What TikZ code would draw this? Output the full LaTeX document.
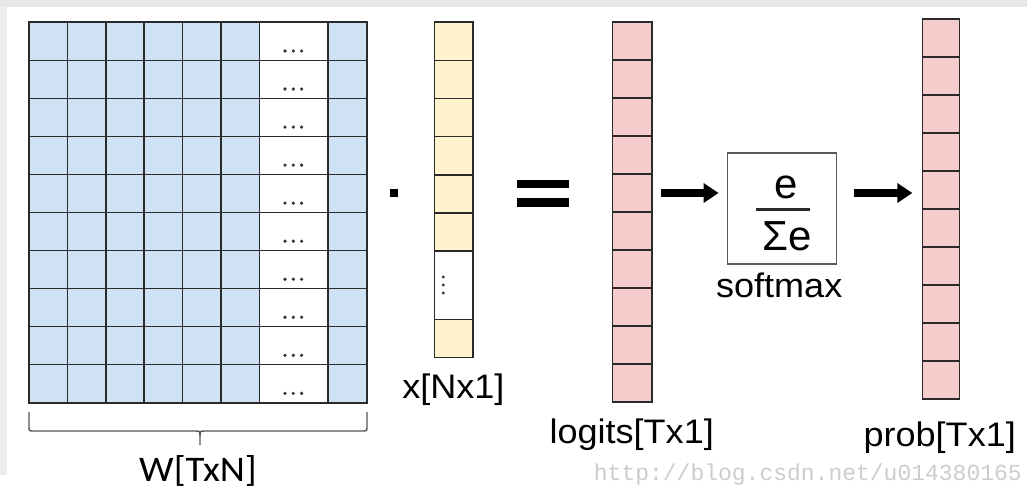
\documentclass[tikz,border=0pt]{standalone}
\usepackage{fontspec}
\setmainfont{Liberation Sans}
\newfontfamily\labfont{Liberation Sans}[FakeStretch=1.06]
\newfontfamily\wfont{Carlito}[FakeStretch=1.08]
\newfontfamily\markfont{Liberation Mono}
\usetikzlibrary{arrows.meta,calc}

\definecolor{cellblue}{HTML}{CFE2F3}
\definecolor{cellyellow}{HTML}{FFF2CC}
\definecolor{cellpink}{HTML}{F4CCCC}
\definecolor{gridline}{HTML}{2A2A2A}
\definecolor{boxgrey}{HTML}{5A5A5A}
\definecolor{bracegrey}{HTML}{555555}
\definecolor{stripgrey}{HTML}{E6E7E9}
\definecolor{sidegrey}{HTML}{ECEDEF}
\definecolor{markgrey}{HTML}{CDCDCD}
\definecolor{dotgrey}{HTML}{333333}

\begin{document}
\begin{tikzpicture}[x=1pt,y=-1pt,
  cellcol/.style={inner sep=0pt, outer sep=0pt, anchor=north west},
  gridstroke/.style={draw=gridline, line width=1.6pt},
  opbar/.style={fill=black, inner sep=0pt, outer sep=0pt},
  bigarrow/.style={line width=7.5pt, -{Triangle[length=15pt,width=19pt]}},
  lab/.style={inner sep=0pt, anchor=base, font=\labfont\fontsize{34}{40}\selectfont},
  fracpart/.style={inner sep=0pt, font=\fontsize{42}{50}\selectfont}
]
\useasboundingbox (0,0) rectangle (1027,495);
\fill[white] (0,0) rectangle (1027,495);
\fill[stripgrey] (0,0) rectangle (1027,7);
\fill[sidegrey] (0,7) rectangle (7,475);

% ---- weight matrix W ----
\node[cellcol, fill=cellblue, minimum width=337.7pt, minimum height=380.4pt] (W) at (29,22.3) {};
\fill[white] (259.4,22.3) rectangle (327.7,402.7);
\foreach \x in {67.4,105.8,144.2,182.6,221,259.4,327.7}
  \draw[gridstroke] (\x,22.3) -- (\x,402.7);
\foreach \j in {1,...,9}
  \draw[gridstroke] (29,{22.3+38.04*\j}) -- (366.7,{22.3+38.04*\j});
\draw[gridstroke] (W.north west) rectangle (W.south east);
\foreach \j in {0,...,9}
  \foreach \dx in {-8.3,0,8.3}
    \fill[dotgrey] ({293.3+\dx},{22.3+38.04*\j+28.7}) circle (1.8);

% brace under W
\draw[bracegrey, line width=1.4pt]
  (29,412) -- (29,426) .. controls (29,431) .. (34,431) -- (195,431)
  .. controls (200,431) .. (200,436) -- (200,445);
\draw[bracegrey, line width=1.4pt]
  (200,436) .. controls (200,431) .. (205,431) -- (362,431)
  .. controls (367,431) .. (367,426) -- (367,412);
\node[inner sep=0pt, anchor=base, font=\wfont\fontsize{36}{42}\selectfont] (wlabel) at (198,481.7) {W[TxN]};

% ---- product dot ----
\node[opbar, minimum width=8.3pt, minimum height=8pt] (dotop) at (394.2,193.3) {};

% ---- input vector x ----
\node[cellcol, fill=cellyellow, minimum width=38.4pt, minimum height=335pt] (xv) at (434.3,22.3) {};
\fill[white] (434.3,250.9) rectangle (472.7,319.3);
\foreach \k in {1,...,6}
  \draw[gridstroke] (434.3,{22.3+38.1*\k}) -- (472.7,{22.3+38.1*\k});
\draw[gridstroke] (434.3,319.3) -- (472.7,319.3);
\draw[gridstroke] (xv.north west) rectangle (xv.south east);
\foreach \y in {277,285,293}
  \fill[dotgrey] (443.3,\y) circle (1.6);
\node[lab] (xlabel) at (453.4,398.3) {x[Nx1]};

% ---- equals sign ----
\node[opbar, minimum width=52.3pt, minimum height=8.3pt] (eqtop) at (542.9,184.2) {};
\node[opbar, minimum width=52.3pt, minimum height=8.3pt] (eqbot) at (542.9,202.5) {};

% ---- logits vector ----
\node[cellcol, fill=cellpink, minimum width=39.4pt, minimum height=379.4pt] (logits) at (612.3,22.3) {};
\foreach \k in {1,...,9}
  \draw[gridstroke] (612.3,{22.3+37.94*\k}) -- (651.7,{22.3+37.94*\k});
\draw[gridstroke] (logits.north west) rectangle (logits.south east);
\node[lab] (loglabel) at (631.7,443.3) {logits[Tx1]};

% ---- softmax box ----
\node[draw=boxgrey, line width=1.5pt, minimum width=109.4pt, minimum height=111.3pt, inner sep=0pt] (sm) at (782,208.4) {};
\node[fracpart] (num) at (786,187) {e};
\draw[gridline, line width=3pt] (756,209) -- (810,209);
\node[fracpart] (den) at (787,236.5) {Σe};
\node[lab] (smlabel) at (779.2,297.7) {softmax};

% ---- prob vector ----
\node[cellcol, fill=cellpink, minimum width=37pt, minimum height=380pt] (prob) at (922.3,19) {};
\foreach \k in {1,...,9}
  \draw[gridstroke] (922.3,{19+38*\k}) -- (959.3,{19+38*\k});
\draw[gridstroke] (prob.north west) rectangle (prob.south east);
\node[lab] (problabel) at (939.7,446) {prob[Tx1]};

% ---- arrows ----
\coordinate (arrowrow) at (0,193);
\draw[bigarrow] ($(logits.east |- arrowrow)+(9.5,0)$) -- ($(sm.west |- arrowrow)+(-8,0)$);
\draw[bigarrow] ($(sm.east |- arrowrow)+(17,0)$) -- ($(prob.west |- arrowrow)+(-10,0)$);

% ---- source mark ----
\node[inner sep=0pt, anchor=base east, text=markgrey, font=\markfont\fontsize{23}{27}\selectfont] (srcmark) at (1022,480) {http://blog.csdn.net/u014380165};
\end{tikzpicture}
\end{document}
